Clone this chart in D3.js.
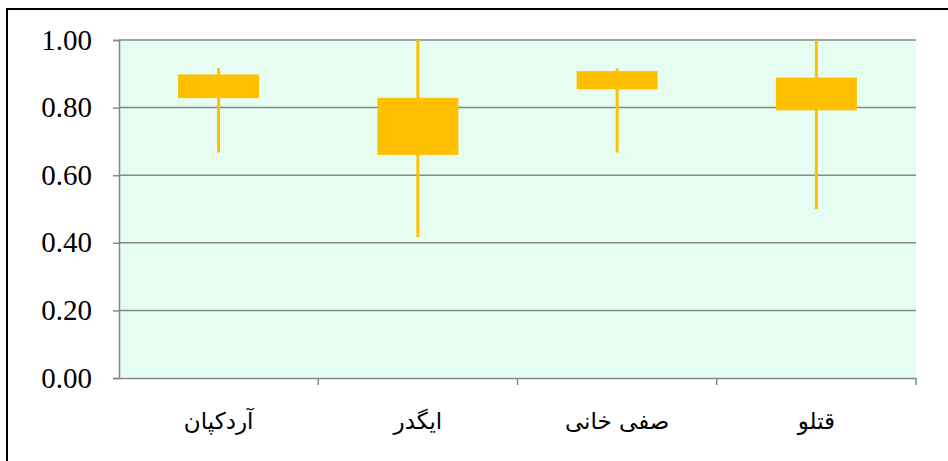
<!DOCTYPE html>
<html lang="en">
<head>
<meta charset="utf-8">
<script src="https://cdn.jsdelivr.net/npm/d3@7"></script>
</head>
<body style="margin:0">
<svg id="chart" width="948" height="461"></svg>
<script>
// categories and box values (min, q1, q3, max)
var sites = ['آردکپان', 'ایگدر', 'صفی خانی', 'قتلو'];
var lows = [0.667, 0.417, 0.667, 0.50];
var boxBottoms = [0.828, 0.660, 0.854, 0.792];
var boxTops = [0.898, 0.829, 0.908, 0.889];
var highs = [0.917, 1.00, 0.916, 1.00];
var yTicks = [0, 0.2, 0.4, 0.6, 0.8, 1.0];

var svg = d3.select('#chart');
var plot = { l: 119, r: 916, t: 40, b: 378 };

// outer frame (only left and top edges fall inside the picture)
svg.append('rect')
    .attr('x', 7).attr('y', 9)
    .attr('width', 960).attr('height', 470)
    .style('fill', 'none')
    .style('stroke', '#000')
    .style('stroke-width', 2);

var x = d3.scaleBand().domain(sites).range([plot.l, plot.r]);
var y = d3.scaleLinear().domain([0, 1]).range([plot.b, plot.t]);

svg.append('rect')
    .attr('x', plot.l).attr('y', plot.t)
    .attr('width', plot.r - plot.l).attr('height', plot.b - plot.t)
    .style('fill', '#E6FEF1');

// gridlines
svg.append('g').selectAll('line')
    .data(yTicks.slice(1))
    .enter().append('line')
    .attr('x1', plot.l).attr('x2', plot.r)
    .attr('y1', function (d) { return y(d); })
    .attr('y2', function (d) { return y(d); })
    .style('stroke', '#878787')
    .style('stroke-width', 1.5);

// y axis: ticks from d3, labels drawn as plain text
var yAxis = svg.append('g')
    .attr('transform', 'translate(' + plot.l + ',0)')
    .call(d3.axisLeft(y).tickValues(yTicks).tickFormat('').tickSize(6));

svg.append('g').selectAll('text')
    .data(yTicks)
    .enter().append('text')
    .attr('x', plot.l - 27)
    .attr('y', function (d) { return y(d); })
    .attr('dy', '0.33em')
    .attr('text-anchor', 'end')
    .attr('style', "font-family: 'Liberation Serif', 'Times New Roman', serif; font-size: 29px; fill: #000;")
    .text(d3.format('.2f'));

// x axis, ticks on band edges
var xAxis = svg.append('g')
    .attr('transform', 'translate(0,' + plot.b + ')')
    .call(d3.axisBottom(x).tickSize(0).tickPadding(0));
xAxis.selectAll('text')
    .attr('dy', null)
    .attr('y', 51)
    .style('font-family', "'DejaVu Sans', sans-serif")
    .style('font-size', '23px')
    .style('fill', '#000');
xAxis.selectAll('.tick')
    .append('line')
    .attr('x1', x.bandwidth() / 2).attr('x2', x.bandwidth() / 2)
    .attr('y1', 0).attr('y2', 7);
xAxis.append('line')
    .attr('x1', plot.l).attr('x2', plot.l)
    .attr('y1', 0).attr('y2', 7);

svg.selectAll('.domain, .tick line')
    .style('stroke', '#878787')
    .style('stroke-width', 1.5);

// whiskers and boxes
var boxW = 81;
var g = svg.append('g').selectAll('g')
    .data(sites)
    .enter().append('g');

g.append('line')
    .attr('x1', function (d) { return x(d) + x.bandwidth() / 2; })
    .attr('x2', function (d) { return x(d) + x.bandwidth() / 2; })
    .attr('y1', function (d, i) { return y(lows[i]); })
    .attr('y2', function (d, i) { return y(highs[i]); })
    .style('stroke', '#FFC000')
    .style('stroke-width', 3);

g.append('rect')
    .attr('x', function (d) { return x(d) + x.bandwidth() / 2 - boxW / 2; })
    .attr('y', function (d, i) { return y(boxTops[i]); })
    .attr('width', boxW)
    .attr('height', function (d, i) { return y(boxBottoms[i]) - y(boxTops[i]); })
    .style('fill', '#FFC000');
</script>
</body>
</html>
